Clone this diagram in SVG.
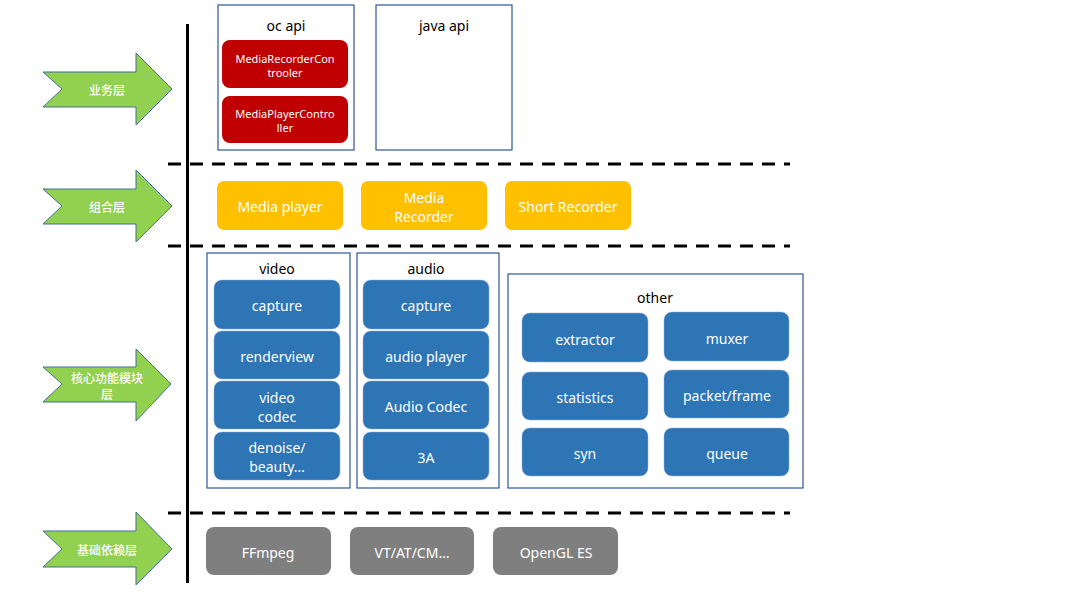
<svg xmlns="http://www.w3.org/2000/svg" width="1080" height="608" viewBox="0 0 1080 608">
<style>
text{font-family:"Noto Sans","Liberation Sans","Noto Sans CJK SC",sans-serif;text-anchor:middle;dominant-baseline:central}
.arrow{fill:#92D050;stroke:#41719C;stroke-width:1}
.at{fill:#fff;font-size:12px;font-family:"Noto Sans CJK SC",sans-serif;font-weight:500}
.frame{fill:#fff;stroke:#2F5597;stroke-width:1.2}
.ft{fill:#000;font-size:14px}
.red{fill:#C00000}
.yel{fill:#FFC000}
.blue{fill:#2E75B6;stroke:#8FAADC;stroke-width:0.5}
.grey{fill:#7F7F7F}
.wt{fill:#fff;font-size:14px}
.st{fill:#fff;font-size:11px}
.dash{stroke:#000;stroke-width:3;stroke-dasharray:13 9;fill:none}
</style>
<g id="axis">
<line x1="187.5" y1="24" x2="187.5" y2="583" stroke="#000" stroke-width="3"/>
</g>
<g id="separators">
<line class="dash" x1="168" y1="164" x2="790" y2="164"/>
<line class="dash" x1="168" y1="246" x2="790" y2="246"/>
<line class="dash" x1="168" y1="513" x2="790" y2="513"/>
</g>
<g id="arrow-biz">
<polygon class="arrow" points="43,72 136,72 136,53 172,89 136,125 136,107 43,107 62,89"/>
<text class="at" x="107" y="89">业务层</text>
</g>
<g id="arrow-combo">
<polygon class="arrow" points="43,189 136,189 136,170 172,206 136,242 136,224 43,224 62,206"/>
<text class="at" x="107" y="206">组合层</text>
</g>
<g id="arrow-core">
<polygon class="arrow" points="43,367 136,367 136,349 171,384 136,421 136,402 43,402 62,384"/>
<text class="at" x="107" y="377">核心功能模块</text>
<text class="at" x="107" y="393">层</text>
</g>
<g id="arrow-base">
<polygon class="arrow" points="43,531 136,531 136,512 172,549 136,585 136,567 43,567 62,549"/>
<text class="at" x="107" y="549">基础依赖层</text>
</g>
<g id="oc-api">
<rect class="frame" x="218" y="5" width="136" height="145"/>
<text class="ft" x="286" y="25">oc api</text>
</g>
<g id="MediaRecorderController">
<rect class="red" x="222" y="40" width="126" height="48" rx="8"/>
<text class="st" x="285" y="58">MediaRecorderCon</text>
<text class="st" x="285" y="72">trooler</text>
</g>
<g id="MediaPlayerController">
<rect class="red" x="222" y="96" width="126" height="47" rx="8"/>
<text class="st" x="285" y="113">MediaPlayerContro</text>
<text class="st" x="285" y="127">ller</text>
</g>
<g id="java-api">
<rect class="frame" x="376" y="5" width="136" height="145"/>
<text class="ft" x="444" y="25">java api</text>
</g>
<g id="media-player">
<rect class="yel" x="217" y="181" width="126" height="49" rx="7"/>
<text class="wt" x="280" y="206">Media player</text>
</g>
<g id="media-recorder">
<rect class="yel" x="361" y="181" width="126" height="49" rx="7"/>
<text class="wt" x="424" y="197">Media</text>
<text class="wt" x="424" y="216">Recorder</text>
</g>
<g id="short-recorder">
<rect class="yel" x="505" y="181" width="126" height="49" rx="7"/>
<text class="wt" x="568" y="206">Short Recorder</text>
</g>
<g id="video">
<rect class="frame" x="207" y="253" width="143" height="235"/>
<text class="ft" x="277" y="268">video</text>
</g>
<g id="video-capture">
<rect class="blue" x="214" y="280" width="126" height="49" rx="8"/>
<text class="wt" x="277" y="305">capture</text>
</g>
<g id="renderview">
<rect class="blue" x="214" y="331" width="126" height="48" rx="8"/>
<text class="wt" x="277" y="356">renderview</text>
</g>
<g id="video-codec">
<rect class="blue" x="214" y="381" width="126" height="48" rx="8"/>
<text class="wt" x="277" y="397">video</text>
<text class="wt" x="277" y="416">codec</text>
</g>
<g id="denoise">
<rect class="blue" x="214" y="432" width="126" height="48" rx="8"/>
<text class="wt" x="277" y="447">denoise/</text>
<text class="wt" x="277" y="466">beauty…</text>
</g>
<g id="audio">
<rect class="frame" x="357" y="253" width="142" height="235"/>
<text class="ft" x="426" y="268">audio</text>
</g>
<g id="audio-capture">
<rect class="blue" x="363" y="280" width="126" height="49" rx="8"/>
<text class="wt" x="426" y="305">capture</text>
</g>
<g id="audio-player">
<rect class="blue" x="363" y="331" width="126" height="48" rx="8"/>
<text class="wt" x="426" y="356">audio player</text>
</g>
<g id="audio-codec">
<rect class="blue" x="363" y="381" width="126" height="48" rx="8"/>
<text class="wt" x="426" y="406">Audio Codec</text>
</g>
<g id="3a">
<rect class="blue" x="363" y="432" width="126" height="48" rx="8"/>
<text class="wt" x="426" y="457">3A</text>
</g>
<g id="other">
<rect class="frame" x="508" y="274" width="295" height="214"/>
<text class="ft" x="655" y="297">other</text>
</g>
<g id="extractor">
<rect class="blue" x="522" y="313" width="126" height="49" rx="8"/>
<text class="wt" x="585" y="339">extractor</text>
</g>
<g id="muxer">
<rect class="blue" x="664" y="312" width="125" height="49" rx="8"/>
<text class="wt" x="727" y="338">muxer</text>
</g>
<g id="statistics">
<rect class="blue" x="522" y="372" width="126" height="48" rx="8"/>
<text class="wt" x="585" y="397">statistics</text>
</g>
<g id="packet-frame">
<rect class="blue" x="664" y="370" width="125" height="48" rx="8"/>
<text class="wt" x="727" y="395">packet/frame</text>
</g>
<g id="syn">
<rect class="blue" x="522" y="428" width="126" height="48" rx="8"/>
<text class="wt" x="585" y="453">syn</text>
</g>
<g id="queue">
<rect class="blue" x="664" y="428" width="125" height="48" rx="8"/>
<text class="wt" x="727" y="453">queue</text>
</g>
<g id="ffmpeg">
<rect class="grey" x="206" y="527" width="125" height="48" rx="8"/>
<text class="wt" x="268" y="552">FFmpeg</text>
</g>
<g id="vt-at-cm">
<rect class="grey" x="350" y="527" width="124" height="48" rx="8"/>
<text class="wt" x="412" y="552">VT/AT/CM…</text>
</g>
<g id="opengl-es">
<rect class="grey" x="493" y="527" width="125" height="48" rx="8"/>
<text class="wt" x="556" y="552">OpenGL ES</text>
</g>
</svg>
